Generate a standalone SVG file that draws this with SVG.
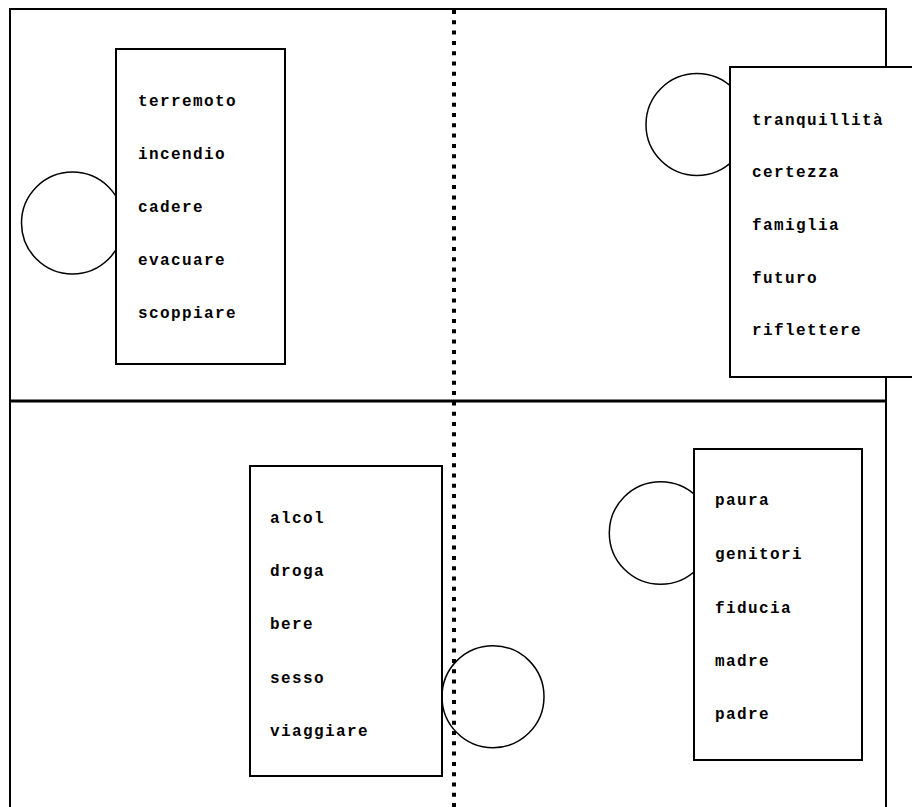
<svg xmlns="http://www.w3.org/2000/svg" width="912" height="807" viewBox="0 0 912 807">
<style>
.frame{fill:none;stroke:#000;stroke-width:2}
.box{fill:#fff;stroke:#000;stroke-width:2}
.circ{fill:#fff;stroke:#000;stroke-width:1.5}
.lbl{font-family:"Courier New","Liberation Mono",monospace;font-weight:bold;font-size:16px;letter-spacing:1.4px;fill:#000}
</style>
<rect width="912" height="807" fill="#fff"/>
<g id="frame">
<path class="frame" d="M10,820 V9 H886 V820"/>
</g>
<g id="connectors">
<line x1="10" y1="401" x2="886" y2="401" stroke="#000" stroke-width="3"/>
<line x1="454" y1="10" x2="454" y2="807" stroke="#000" stroke-width="4" stroke-dasharray="4 6.3"/>
</g>
<g id="node1">
<circle class="circ" cx="72.5" cy="223" r="51"/>
<rect class="box" x="116" y="49" width="169" height="315"/>
<text class="lbl" x="138" y="106">terremoto</text>
<text class="lbl" x="138" y="159">incendio</text>
<text class="lbl" x="138" y="212">cadere</text>
<text class="lbl" x="138" y="265">evacuare</text>
<text class="lbl" x="138" y="318">scoppiare</text>
</g>
<g id="node2">
<circle class="circ" cx="697" cy="124.5" r="51"/>
<rect class="box" x="730" y="67" width="190" height="310"/>
<text class="lbl" x="752" y="125">tranquillità</text>
<text class="lbl" x="752" y="177">certezza</text>
<text class="lbl" x="752" y="229.5">famiglia</text>
<text class="lbl" x="752" y="282.5">futuro</text>
<text class="lbl" x="752" y="335">riflettere</text>
</g>
<g id="node3">
<rect class="box" x="250" y="466" width="192" height="310"/>
<circle class="circ" cx="493" cy="696.7" r="51" fill="none" style="fill:none"/>
<text class="lbl" x="270" y="523">alcol</text>
<text class="lbl" x="270" y="576">droga</text>
<text class="lbl" x="270" y="629">bere</text>
<text class="lbl" x="270" y="682.5">sesso</text>
<text class="lbl" x="270" y="736">viaggiare</text>
</g>
<g id="node4">
<circle class="circ" cx="660.6" cy="533" r="51.3"/>
<rect class="box" x="694" y="449" width="168" height="311"/>
<text class="lbl" x="715" y="505">paura</text>
<text class="lbl" x="715" y="559">genitori</text>
<text class="lbl" x="715" y="612.5">fiducia</text>
<text class="lbl" x="715" y="665.5">madre</text>
<text class="lbl" x="715" y="719">padre</text>
</g>
</svg>
